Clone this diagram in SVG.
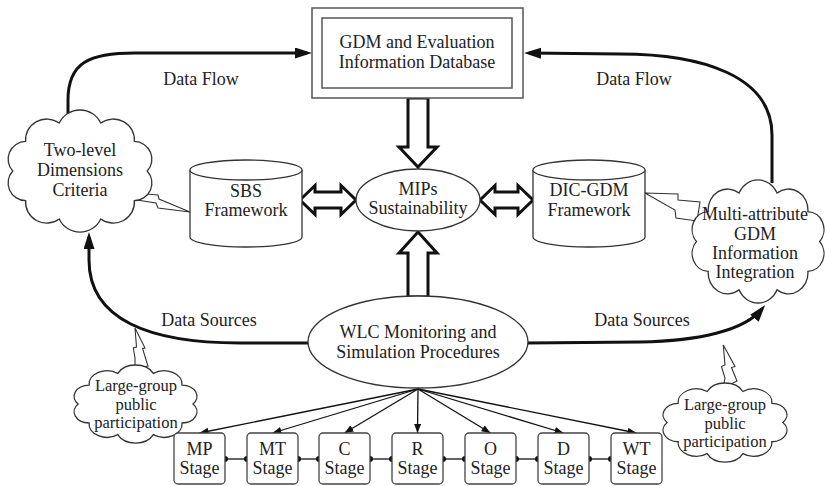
<svg xmlns="http://www.w3.org/2000/svg" xmlns:xlink="http://www.w3.org/1999/xlink" width="825" height="486" viewBox="0 0 825 486">
<style>
  text { font-family: "Liberation Serif", "Times New Roman", serif; font-size: 18px; fill: #222; text-anchor: middle; }
  .sm { font-size: 16.5px; }
  .shape { fill: #fff; stroke: #333; stroke-width: 1.3; }
  .cloudp { fill: #fff; stroke: #333; stroke-width: 1.3; vector-effect: non-scaling-stroke; }
  .block { fill: #fff; stroke: #111; stroke-width: 3; stroke-linejoin: miter; }
  .bolt { fill: #fff; stroke: #333; stroke-width: 1.1; stroke-linejoin: miter; }
  .flow { fill: none; stroke: #111; stroke-width: 3; }
  .thin { fill: none; stroke: #111; stroke-width: 1.3; }
  .stage { fill: #fff; stroke: #444; stroke-width: 1.3; }
  .link { stroke: #111; stroke-width: 1.3; }
  .dot { fill: #111; }
</style>
<defs>
  <path id="cloud" class="cloudp" d="M92,40 A11.25,11.25 0 0 1 83.98,58.82 A13.2,13.2 0 0 1 62.98,70.43 A14.3,14.3 0 0 1 37.02,70.43 A13.2,13.2 0 0 1 16.02,58.82 A11.25,11.25 0 0 1 8,40 A11.25,11.25 0 0 1 16.02,21.18 A13.2,13.2 0 0 1 37.02,9.57 A14.3,14.3 0 0 1 62.98,9.57 A13.2,13.2 0 0 1 83.98,21.18 A11.25,11.25 0 0 1 92,40 Z"/>
  <marker id="big" markerUnits="userSpaceOnUse" markerWidth="18" markerHeight="12" refX="12" refY="5.5" orient="auto">
    <path d="M0,0 L17,5.5 L0,11 Z" fill="#111"/>
  </marker>
  <marker id="small" markerUnits="userSpaceOnUse" markerWidth="10" markerHeight="8" refX="9" refY="3.5" orient="auto">
    <path d="M0,0 L9,3.5 L0,7 Z" fill="#111"/>
  </marker>
</defs>

<g id="connectors">
  <!-- Data Flow -->
  <path class="flow" d="M68,117 L68,100 C68,62 90,53 135,53 L307,53" marker-end="url(#big)"/>
  <path class="flow" d="M772,183 L772,135 C772,75 700,54 620,54 L529,53" marker-end="url(#big)"/>
  <!-- Data Sources -->
  <path class="flow" d="M308,343 L240,343 C150,343 89,320 89,260 L89,237" marker-end="url(#big)"/>
  <path class="flow" d="M527,343 L640,342 C700,341 745,330 762,309" marker-end="url(#big)"/>
  <!-- block arrows -->
  <polygon class="block" points="408,98 428,98 428,147 437,147 418,167 399,147 408,147"/>
  <polygon class="block" points="418,232 437,253 428,253 428,297 408,297 408,253 399,253"/>
  <polygon class="block" points="300,200 315,185.5 315,192 341,192 341,185.5 356,200 341,214.5 341,208 315,208 315,214.5"/>
  <polygon class="block" points="480,200 495,185.5 495,192 518,192 518,185.5 533,200 518,214.5 518,208 495,208 495,214.5"/>
  <!-- lightning callouts -->
  <polygon class="bolt" points="135,193 158,195 159,199 190,212 158,208 156,203 137,200"/>
  <polygon class="bolt" points="645,193 678,194 678,200 700,202 697,221 676,218 675,210"/>
  <polygon class="bolt" points="135,328 145,348 142.5,348.5 148,366 135,368 135,358 133.3,348 136.5,347"/>
  <polygon class="bolt" points="723.3,345 735,366.5 731.5,367.5 737,381 723,388 725,378 721.5,366.5 725,365"/>
  <!-- WLC to stages -->
  <line class="thin" x1="418" y1="389" x2="199.5" y2="433" marker-end="url(#small)"/>
  <line class="thin" x1="418" y1="389" x2="272.5" y2="433" marker-end="url(#small)"/>
  <line class="thin" x1="418" y1="389" x2="344.5" y2="433" marker-end="url(#small)"/>
  <line class="thin" x1="418" y1="389" x2="417.5" y2="433" marker-end="url(#small)"/>
  <line class="thin" x1="418" y1="389" x2="490.5" y2="433" marker-end="url(#small)"/>
  <line class="thin" x1="418" y1="389" x2="563.5" y2="433" marker-end="url(#small)"/>
  <line class="thin" x1="418" y1="389" x2="636.5" y2="433" marker-end="url(#small)"/>
  <!-- stage chain -->
  <line class="link" x1="225" y1="459" x2="247" y2="459"/>
  <line class="link" x1="298" y1="459" x2="319" y2="459"/>
  <line class="link" x1="370" y1="459" x2="392" y2="459"/>
  <line class="link" x1="443" y1="459" x2="465" y2="459"/>
  <line class="link" x1="516" y1="459" x2="538" y2="459"/>
  <line class="link" x1="589" y1="459" x2="611" y2="459"/>
  <circle class="dot" cx="225" cy="459" r="3"/><circle class="dot" cx="247" cy="459" r="3"/>
  <circle class="dot" cx="298" cy="459" r="3"/><circle class="dot" cx="319" cy="459" r="3"/>
  <circle class="dot" cx="370" cy="459" r="3"/><circle class="dot" cx="392" cy="459" r="3"/>
  <circle class="dot" cx="443" cy="459" r="3"/><circle class="dot" cx="465" cy="459" r="3"/>
  <circle class="dot" cx="516" cy="459" r="3"/><circle class="dot" cx="538" cy="459" r="3"/>
  <circle class="dot" cx="589" cy="459" r="3"/><circle class="dot" cx="611" cy="459" r="3"/>
  <!-- labels -->
  <text x="201" y="85">Data Flow</text>
  <text x="634" y="85">Data Flow</text>
  <text x="209" y="326">Data Sources</text>
  <text x="642" y="326">Data Sources</text>
</g>

<g id="database">
  <rect x="312" y="8" width="211" height="90" fill="#fff" stroke="#555" stroke-width="1.5"/>
  <rect x="322" y="18" width="190" height="70" fill="#fff" stroke="#555" stroke-width="1.5"/>
  <text x="417" y="48">GDM and Evaluation</text>
  <text x="417" y="68">Information Database</text>
</g>

<g id="two-level">
  <use xlink:href="#cloud" transform="translate(0,108) scale(1.6,1.576)"/>
  <text x="80" y="156">Two-level</text>
  <text x="80" y="176">Dimensions</text>
  <text x="80" y="196">Criteria</text>
</g>

<g id="sbs">
  <path class="shape" d="M190,170 A56,10 0 0 1 302,170 L302,237 A56,10 0 0 1 190,237 Z"/>
  <path class="shape" fill="none" d="M190,170 A56,10 0 0 0 302,170"/>
  <text x="246" y="197">SBS</text>
  <text x="246" y="216">Framework</text>
</g>

<g id="mips">
  <ellipse class="shape" cx="418" cy="200" rx="62" ry="31"/>
  <text x="418" y="195">MIPs</text>
  <text x="418" y="214">Sustainability</text>
</g>

<g id="dic-gdm">
  <path class="shape" d="M533,170 A56,10 0 0 1 645,170 L645,237 A56,10 0 0 1 533,237 Z"/>
  <path class="shape" fill="none" d="M533,170 A56,10 0 0 0 645,170"/>
  <text x="589" y="196">DIC-GDM</text>
  <text x="589" y="216">Framework</text>
</g>

<g id="multi-attribute">
  <use xlink:href="#cloud" transform="translate(684.7,177.9) scale(1.467,1.589)"/>
  <text x="755" y="220">Multi-attribute</text>
  <text x="755" y="240">GDM</text>
  <text x="755" y="259">Information</text>
  <text x="755" y="278">Integration</text>
</g>

<g id="wlc">
  <ellipse class="shape" cx="418" cy="342" rx="110" ry="46"/>
  <text x="418" y="338">WLC Monitoring and</text>
  <text x="418" y="358">Simulation Procedures</text>
</g>

<g id="public-left">
  <use xlink:href="#cloud" transform="translate(67.2,363.7) scale(1.367,1.008)"/>
  <text class="sm" x="136" y="391">Large-group</text>
  <text class="sm" x="136" y="409.5">public</text>
  <text class="sm" x="136" y="428">participation</text>
</g>

<g id="public-right">
  <use xlink:href="#cloud" transform="translate(656.1,381.7) scale(1.378,1.021)"/>
  <text class="sm" x="725" y="410">Large-group</text>
  <text class="sm" x="725" y="428.5">public</text>
  <text class="sm" x="725" y="447">participation</text>
</g>

<g id="stage-mp"><rect class="stage" x="174" y="433" width="51" height="51" rx="4"/><text x="199.5" y="455">MP</text><text x="199.5" y="474">Stage</text></g>
<g id="stage-mt"><rect class="stage" x="247" y="433" width="51" height="51" rx="4"/><text x="272.5" y="455">MT</text><text x="272.5" y="474">Stage</text></g>
<g id="stage-c"><rect class="stage" x="319" y="433" width="51" height="51" rx="4"/><text x="344.5" y="455">C</text><text x="344.5" y="474">Stage</text></g>
<g id="stage-r"><rect class="stage" x="392" y="433" width="51" height="51" rx="4"/><text x="417.5" y="455">R</text><text x="417.5" y="474">Stage</text></g>
<g id="stage-o"><rect class="stage" x="465" y="433" width="51" height="51" rx="4"/><text x="490.5" y="455">O</text><text x="490.5" y="474">Stage</text></g>
<g id="stage-d"><rect class="stage" x="538" y="433" width="51" height="51" rx="4"/><text x="563.5" y="455">D</text><text x="563.5" y="474">Stage</text></g>
<g id="stage-wt"><rect class="stage" x="611" y="433" width="51" height="51" rx="4"/><text x="636.5" y="455">WT</text><text x="636.5" y="474">Stage</text></g>
</svg>
